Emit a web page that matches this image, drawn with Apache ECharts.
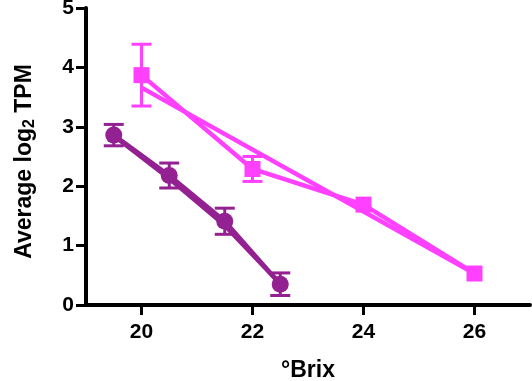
<!DOCTYPE html>
<html>
<head>
<meta charset="utf-8">
<script src="https://cdn.jsdelivr.net/npm/echarts@6/dist/echarts.min.js"></script>
<style>
  html, body { margin: 0; padding: 0; background: #ffffff; }
  #chart { width: 532px; height: 381px; }
</style>
</head>
<body>
<div id="chart"></div>
<script>
// Tick positions on the °Brix axis
const brixTicks = [20, 22, 24, 26];

// Square series (magenta): mean ± error (0 = bar hidden behind the symbol)
const squareX = [20, 22, 24, 26];
const squareMean = [3.87, 2.29, 1.69, 0.53];
const squareErr = [0.52, 0.21, 0, 0];

// Second magenta trace running from the first to the last square
const squareTraceX = [20, 26];
const squareTraceY = [3.66, 0.53];

// Circle series (purple): mean ± error
const circleX = [19.5, 20.5, 21.5, 22.5];
const circleMean = [2.86, 2.18, 1.41, 0.35];
const circleErr = [0.18, 0.21, 0.22, 0.19];

// Second purple trace alongside the circles
const circleTraceY = [2.85, 2.13, 1.34, 0.36];

const MAGENTA = '#ff40ff';
const PURPLE = '#942192';
const FONT = '"Liberation Sans", Arial, Helvetica, sans-serif';

const pairs = (xs, ys) => xs.map((x, i) => [x, ys[i]]);
const errRows = (xs, ys, es) => xs.map((x, i) => [x, ys[i] - es[i], ys[i] + es[i]]);

function errorBars(color) {
  return function (params, api) {
    const x = api.value(0);
    if (api.value(1) === api.value(2)) return null;
    const lo = api.coord([x, api.value(1)]);
    const hi = api.coord([x, api.value(2)]);
    const half = 10;
    const style = { stroke: color, lineWidth: 3, fill: null };
    return {
      type: 'group',
      children: [
        { type: 'line', shape: { x1: lo[0], y1: lo[1], x2: hi[0], y2: hi[1] }, style },
        { type: 'line', shape: { x1: lo[0] - half, y1: lo[1], x2: lo[0] + half, y2: lo[1] }, style },
        { type: 'line', shape: { x1: hi[0] - half, y1: hi[1], x2: hi[0] + half, y2: hi[1] }, style }
      ]
    };
  };
}

const chart = echarts.init(document.getElementById('chart'), null, { renderer: 'canvas' });

chart.setOption({
  animation: false,
  backgroundColor: '#ffffff',
  grid: { left: 86, right: 2, top: 8, bottom: 76, containLabel: false, outerBoundsMode: 'none' },
  xAxis: {
    type: 'value',
    min: 19,
    max: 27,
    name: '°Brix',
    nameLocation: 'middle',
    nameGap: 54,
    nameTextStyle: { fontFamily: FONT, fontWeight: 'bold', fontSize: 23, color: '#000' },
    axisLine: { show: true, lineStyle: { color: '#000', width: 4 } },
    axisTick: { show: true, length: 10, lineStyle: { color: '#000', width: 3 }, customValues: brixTicks },
    axisLabel: { customValues: brixTicks, fontFamily: FONT, fontWeight: 'bold', fontSize: 21, color: '#000', margin: 17 },
    splitLine: { show: false }
  },
  yAxis: {
    type: 'value',
    min: 0,
    max: 5,
    interval: 1,
    name: '{a|Average log}{s|2}{a| TPM}',
    nameLocation: 'middle',
    nameGap: 48,
    nameTextStyle: {
      color: '#000',
      padding: [0, 10, 0, 0],
      rich: {
        a: { fontFamily: FONT, fontWeight: 'bold', fontSize: 23, color: '#000' },
        s: { fontFamily: FONT, fontWeight: 'bold', fontSize: 16, color: '#000', padding: [11, 0, 0, 0] }
      }
    },
    axisLine: { show: true, lineStyle: { color: '#000', width: 4 } },
    axisTick: { show: true, length: 10, lineStyle: { color: '#000', width: 3 } },
    axisLabel: { fontFamily: FONT, fontWeight: 'bold', fontSize: 21, color: '#000', margin: 12 },
    splitLine: { show: false }
  },
  series: [
    {
      type: 'line',
      data: pairs(squareTraceX, squareTraceY),
      symbol: 'none',
      lineStyle: { color: MAGENTA, width: 4.5 },
      z: 2
    },
    {
      type: 'custom',
      data: errRows(squareX, squareMean, squareErr),
      renderItem: errorBars(MAGENTA),
      z: 3
    },
    {
      type: 'line',
      data: pairs(squareX, squareMean),
      symbol: 'rect',
      symbolSize: 16,
      itemStyle: { color: MAGENTA },
      lineStyle: { color: MAGENTA, width: 4.5 },
      z: 4
    },
    {
      type: 'line',
      data: pairs(circleX, circleTraceY),
      symbol: 'none',
      lineStyle: { color: PURPLE, width: 4.5 },
      z: 5
    },
    {
      type: 'custom',
      data: errRows(circleX, circleMean, circleErr),
      renderItem: errorBars(PURPLE),
      z: 6
    },
    {
      type: 'line',
      data: pairs(circleX, circleMean),
      symbol: 'circle',
      symbolSize: 17,
      itemStyle: { color: PURPLE },
      lineStyle: { color: PURPLE, width: 4.5 },
      z: 7
    }
  ]
});
</script>
</body>
</html>
